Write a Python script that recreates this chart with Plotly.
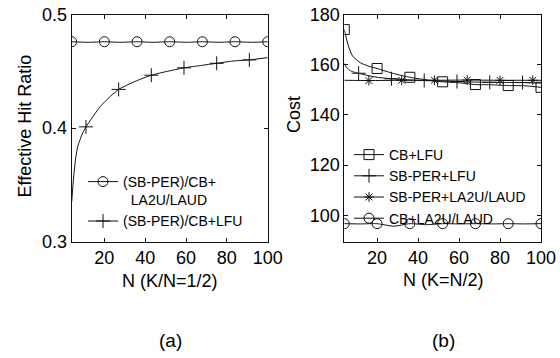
import plotly.graph_objects as go

# ---------------- Panel (a) data ----------------
a_circ_curve_x = [4, 12, 20, 28, 36, 44, 52, 60, 68, 76, 84, 92, 100]
a_circ_curve_y = [0.476, 0.4755, 0.476, 0.4755, 0.476, 0.4755, 0.476, 0.4755, 0.476, 0.4755, 0.476, 0.4755, 0.476]
a_circ_mark_x = [4, 20, 36, 52, 68, 84, 100]
a_circ_mark_y = [0.476, 0.476, 0.476, 0.476, 0.476, 0.476, 0.476]

a_lfu_curve_x = [4, 5, 6, 7, 9, 11, 14, 18, 23, 27, 35, 43, 51, 59, 67, 75, 83, 91, 100]
a_lfu_curve_y = [0.335, 0.358, 0.374, 0.384, 0.394, 0.401, 0.409, 0.419, 0.428, 0.434, 0.441, 0.4465,
                 0.450, 0.453, 0.455, 0.457, 0.459, 0.460, 0.462]
a_lfu_mark_x = [11, 27, 43, 59, 75, 91]
a_lfu_mark_y = [0.401, 0.434, 0.4465, 0.453, 0.457, 0.460]

a_names = ["(SB-PER)/CB+<br>\u00a0\u00a0LA2U/LAUD", "(SB-PER)/CB+LFU"]

# ---------------- Panel (b) data ----------------
b_sq_curve_x = [4, 5, 6, 8, 12, 16, 20, 28, 36, 44, 52, 60, 68, 76, 84, 92, 100]
b_sq_curve_y = [174, 170.5, 167.5, 163.5, 160.7, 159.4, 158.5, 156.5, 155, 154, 153.2, 152.8, 152.1, 152,
                151.7, 151.6, 151]
b_sq_mark_x = [4, 20, 36, 52, 68, 84, 100]
b_sq_mark_y = [174, 158.5, 155, 153.2, 152.1, 151.7, 151]

b_pl_curve_x = [4, 5, 7, 9, 11, 15, 20, 27, 35, 43, 51, 59, 67, 75, 83, 91, 100]
b_pl_curve_y = [160.5, 159, 157.6, 157, 156.6, 155.8, 155, 154.4, 154, 153.7, 153.5, 153.3, 153.1,
                153, 152.9, 152.9, 152.7]
b_pl_mark_x = [11, 27, 43, 59, 75, 91]
b_pl_mark_y = [156.6, 154.4, 153.7, 153.3, 153, 152.9]

b_st_curve_x = [4, 16, 32, 48, 64, 80, 96, 100]
b_st_curve_y = [153.8, 153.7, 153.8, 153.8, 153.9, 153.8, 153.8, 153.8]
b_st_mark_x = [16, 32, 48, 64, 80, 96]
b_st_mark_y = [153.7, 153.8, 153.8, 153.9, 153.8, 153.8]

b_ci_curve_x = [4, 12, 20, 28, 36, 44, 52, 60, 68, 76, 84, 92, 100]
b_ci_curve_y = [96.7, 96.6, 96.7, 95.7, 96.7, 96.3, 96.7, 96.6, 96.7, 96.6, 96.7, 96.6, 96.7]
b_ci_mark_x = [4, 20, 36, 52, 68, 84, 100]
b_ci_mark_y = [96.7, 96.7, 96.7, 96.7, 96.7, 96.7, 96.7]

b_names = ["CB+LFU", "SB-PER+LFU", "SB-PER+LA2U/LAUD", "CB+LA2U/LAUD"]

x_ticks = [20, 40, 60, 80, 100]
a_y_ticks = [0.3, 0.4, 0.5]
b_y_ticks = [100, 120, 140, 160, 180]

# ---------------- Styling ----------------
INK = "#111111"
FONT = "Liberation Sans, Arial, sans-serif"
LW = 1

fig = go.Figure()


def add_series(cx, cy, mx, my, symbol, size, name, xa, ya, legend):
    fig.add_trace(go.Scatter(x=cx, y=cy, mode="lines", line=dict(color=INK, width=LW, shape="spline", smoothing=0.6),
                             xaxis=xa, yaxis=ya, showlegend=False, hoverinfo="skip"))
    fig.add_trace(go.Scatter(x=mx, y=my, mode="markers",
                             marker=dict(symbol=symbol, size=size, color=INK, line=dict(color=INK, width=1)),
                             xaxis=xa, yaxis=ya, showlegend=False))
    # legend proxy (line + marker)
    fig.add_trace(go.Scatter(x=[None], y=[None], mode="lines+markers", name=name,
                             line=dict(color=INK, width=LW),
                             marker=dict(symbol=symbol, size=size, color=INK, line=dict(color=INK, width=1)),
                             xaxis=xa, yaxis=ya, legend=legend, showlegend=True))


add_series(a_circ_curve_x, a_circ_curve_y, a_circ_mark_x, a_circ_mark_y, "circle-open", 10, a_names[0], "x", "y", "legend")
add_series(a_lfu_curve_x, a_lfu_curve_y, a_lfu_mark_x, a_lfu_mark_y, "cross-thin-open", 10, a_names[1], "x", "y", "legend")

add_series(b_sq_curve_x, b_sq_curve_y, b_sq_mark_x, b_sq_mark_y, "square-open", 10, b_names[0], "x2", "y2", "legend2")
add_series(b_pl_curve_x, b_pl_curve_y, b_pl_mark_x, b_pl_mark_y, "cross-thin-open", 10, b_names[1], "x2", "y2", "legend2")
add_series(b_st_curve_x, b_st_curve_y, b_st_mark_x, b_st_mark_y, "asterisk-open", 8, b_names[2], "x2", "y2", "legend2")
add_series(b_ci_curve_x, b_ci_curve_y, b_ci_mark_x, b_ci_mark_y, "circle-open", 10, b_names[3], "x2", "y2", "legend2")

W, H = 560, 358
axis_common = dict(showline=True, linecolor=INK, linewidth=1, mirror="allticks", ticks="inside",
                   ticklen=4, tickcolor=INK, showgrid=False, zeroline=False,
                   tickfont=dict(family=FONT, size=18, color="black"), automargin=False)

ydom = [1 - 241.5 / H, 1 - 14.5 / H]

fig.update_layout(
    width=W, height=H,
    margin=dict(l=0, r=0, t=0, b=0),
    paper_bgcolor="white", plot_bgcolor="white",
    font=dict(family=FONT, color="black"),
    xaxis=dict(domain=[71.7 / W, 267.7 / W], range=[4, 100], tickvals=x_ticks, anchor="y", **axis_common),
    yaxis=dict(domain=ydom, range=[0.3, 0.5], tickvals=a_y_ticks, anchor="x", **axis_common),
    xaxis2=dict(domain=[344.3 / W, 541 / W], range=[4, 100], tickvals=x_ticks, anchor="y2", **axis_common),
    yaxis2=dict(domain=ydom, range=[89.6, 180], tickvals=b_y_ticks, anchor="x2", **axis_common),
    legend=dict(x=83 / W, y=1 - 166 / H, xanchor="left", yanchor="top", bgcolor="rgba(0,0,0,0)",
                font=dict(family=FONT, size=14, color="black"), valign="top", tracegroupgap=0),
    legend2=dict(x=349 / W, y=1 - 139 / H, xanchor="left", yanchor="top", bgcolor="rgba(0,0,0,0)",
                 font=dict(family=FONT, size=14, color="black"), tracegroupgap=0),
    showlegend=True,
)

ann_font = dict(family=FONT, size=18, color="black")
fig.add_annotation(text="N (K/N=1/2)", xref="paper", yref="paper", x=170 / W, y=1 - 281 / H,
                   showarrow=False, font=ann_font, xanchor="center", yanchor="middle")
fig.add_annotation(text="N (K=N/2)", xref="paper", yref="paper", x=443.5 / W, y=1 - 280 / H,
                   showarrow=False, font=ann_font, xanchor="center", yanchor="middle")
fig.add_annotation(text="Effective Hit Ratio", xref="paper", yref="paper", x=24.5 / W, y=1 - 126 / H,
                   showarrow=False, font=ann_font, textangle=-90, xanchor="center", yanchor="middle")
fig.add_annotation(text="Cost", xref="paper", yref="paper", x=294 / W, y=1 - 115 / H,
                   showarrow=False, font=ann_font, textangle=-90, xanchor="center", yanchor="middle")
fig.add_annotation(text="(a)", xref="paper", yref="paper", x=170 / W, y=1 - 340 / H,
                   showarrow=False, font=dict(family=FONT, size=19, color="black"), xanchor="center", yanchor="middle")
fig.add_annotation(text="(b)", xref="paper", yref="paper", x=443.5 / W, y=1 - 340 / H,
                   showarrow=False, font=dict(family=FONT, size=19, color="black"), xanchor="center", yanchor="middle")

fig.write_html("out.html")
